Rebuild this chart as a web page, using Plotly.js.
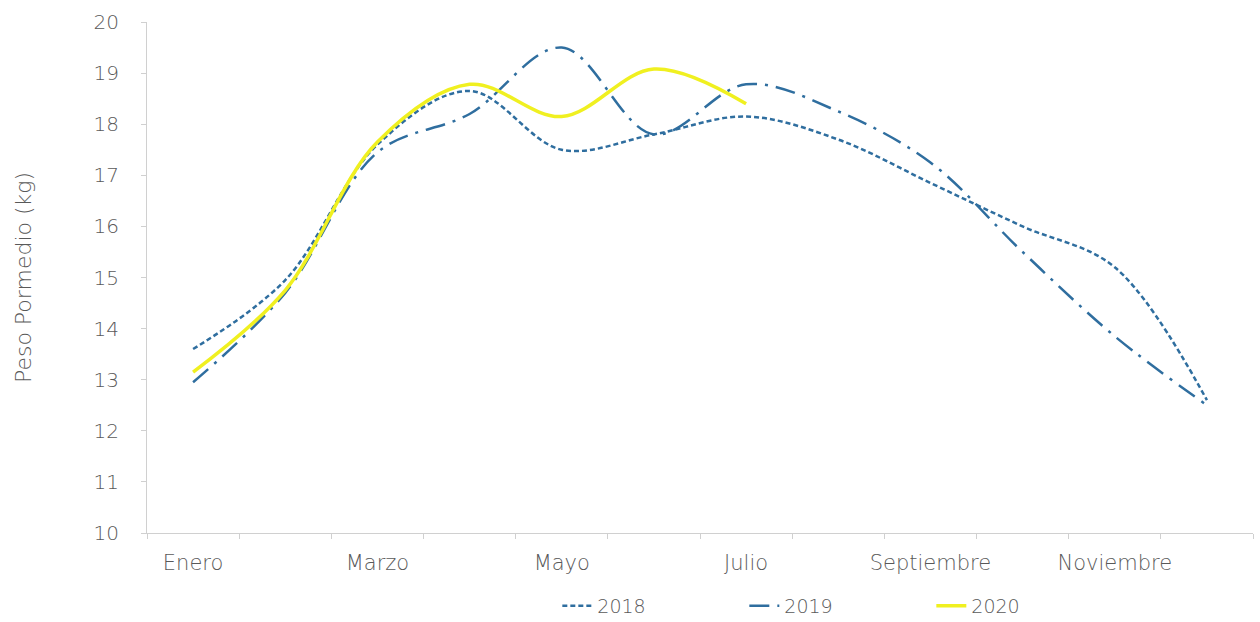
<!DOCTYPE html>
<html><head><meta charset="utf-8">
<script src="https://cdn.plot.ly/plotly-3.0.1.min.js"></script>
<style>body{margin:0;background:#fff}#c{width:1260px;height:622px}</style>
</head><body><div id="c"></div>
<script>
const months = ["Enero","Febrero","Marzo","Abril","Mayo","Junio","Julio","Agosto","Septiembre","Octubre","Noviembre","Diciembre"];
const tickLabels = ["Enero","","Marzo","","Mayo","","Julio","","Septiembre","","Noviembre",""];
const months2020 = ["Enero","Febrero","Marzo","Abril","Mayo","Junio","Julio"];
const y2018 = [13.6, 14.95, 17.6, 18.65, 17.5, 17.8, 18.15, 17.7, 16.85, 16.0, 15.2, 12.6];
const y2019 = [12.95, 14.7, 17.45, 18.2, 19.5, 17.8, 18.78, 18.25, 17.25, 15.5, 13.85, 12.5];
const y2020 = [13.15, 14.75, 17.65, 18.78, 18.15, 19.08, 18.4];

const blue = "#2f6e9f";
const fam = "'DejaVu Sans', sans-serif";
const grey = "#595959";
const traces = [
  {x: months, y: y2018, name: "2018", type: "scatter", mode: "lines",
   line: {color: blue, width: 2.5, dash: "5px,3px", shape: "spline", smoothing: 1}},
  {x: months, y: y2019, name: "2019", type: "scatter", mode: "lines",
   line: {color: blue, width: 2.5, dash: "20px,8px,3px,8px", shape: "spline", smoothing: 1}},
  {x: months2020, y: y2020, name: "2020", type: "scatter", mode: "lines",
   line: {color: "#f0f020", width: 3.5, shape: "spline", smoothing: 1}}
];
const layout = {
  width: 1260, height: 622,
  margin: {l: 147, r: 7, t: 22, b: 89},
  paper_bgcolor: "#fff", plot_bgcolor: "#fff",
  font: {family: fam, color: grey, size: 19, weight: 200},
  showlegend: true,
  legend: {orientation: "h", x: 0.371, xanchor: "left", yref: "container", y: 0.0257, yanchor: "middle",
           font: {family: fam, size: 19, color: grey, weight: 200}, entrywidth: 142, entrywidthmode: "pixels"},
  xaxis: {type: "category", tickmode: "array", tickvals: months, ticktext: tickLabels,
          tickson: "boundaries", ticks: "outside", ticklen: 5, tickcolor: "#d0d0d0",
          showline: true, linecolor: "#d0d0d0", linewidth: 1, showgrid: false,
          zeroline: false, range: [-0.5, 11.5], tickangle: 0, automargin: false,
          ticklabelstandoff: 11,
          tickfont: {family: fam, size: 21, color: grey, weight: 200}},
  yaxis: {range: [10, 20], dtick: 1, tick0: 10, ticks: "outside", ticklen: 5, tickcolor: "#d0d0d0",
          showline: true, linecolor: "#d0d0d0", linewidth: 1, showgrid: false, zeroline: false,
          automargin: false, ticklabelstandoff: 18,
          tickfont: {family: fam, size: 20, color: grey, weight: 200},
          title: {text: "Peso Pormedio (kg)", font: {family: fam, size: 22, color: grey, weight: 200}, standoff: 55}}
};
Plotly.newPlot("c", traces, layout, {displayModeBar: false, staticPlot: true});
</script></body></html>
